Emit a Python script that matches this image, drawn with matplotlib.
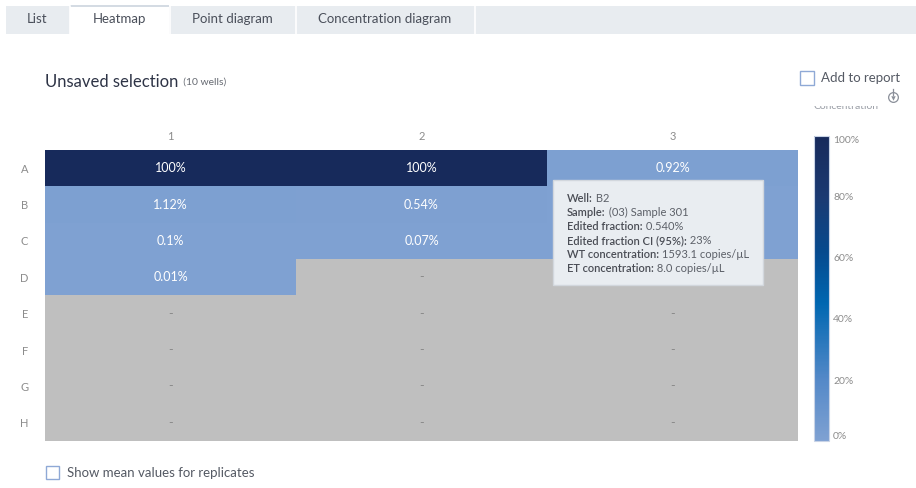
"""Well heatmap of edited fraction (%) with hover tooltip, redrawn in matplotlib."""

import numpy as np
import matplotlib
matplotlib.use("Agg")
import matplotlib.pyplot as plt
from matplotlib.colors import LinearSegmentedColormap, Normalize
from matplotlib.patches import Rectangle
from matplotlib.text import Annotation

plt.rcParams["font.family"] = ["Lato", "DejaVu Sans"]

W, H = 916, 488

# plate layout and data
rows = ["A", "B", "C", "D", "E", "F", "G", "H"]
cols = ["1", "2", "3"]
# edited fraction in %, NaN = no well data
col1 = [100, 1.12, 0.1, 0.01, np.nan, np.nan, np.nan, np.nan]
col2 = [100, 0.54, 0.07, np.nan, np.nan, np.nan, np.nan, np.nan]
col3 = [0.92, 0.35, 0.05, np.nan, np.nan, np.nan, np.nan, np.nan]
# shown labels; "-" for empty wells, None where the tooltip hides the cell
cell_labels = {
    1: ["100%", "1.12%", "0.1%", "0.01%", "-", "-", "-", "-"],
    2: ["100%", "0.54%", "0.07%", "-", "-", "-", "-", "-"],
    3: ["0.92%", None, None, None, "-", "-", "-", "-"],
}
cbar_ticks = [0, 20, 40, 60, 80, 100]

tabs = ["List", "Heatmap", "Point diagram", "Concentration diagram"]
tab_edges = [(6, 69), (70, 169), (170, 295), (296, 474)]

tooltip_lines = [
    ("Well:", "B2"),
    ("Sample:", "(03) Sample 301"),
    ("Edited fraction:", "0.540%"),
    ("Edited fraction CI (95%):", "23%"),
    ("WT concentration:", "1593.1 copies/µL"),
    ("ET concentration:", "8.0 copies/µL"),
]


def box(x0, y0, x1, y1):
    """pixel box (top-left origin) -> figure rect"""
    return [x0 / W, 1 - y1 / H, (x1 - x0) / W, (y1 - y0) / H]


def fx(x):
    return x / W


def fy(y):
    return 1 - y / H


def add_rect(x0, y0, x1, y1, **kw):
    fig.patches.append(Rectangle((fx(x0), fy(y1)), fx(x1) - fx(x0), fy(y0) - fy(y1),
                                 transform=fig.transFigure, **kw))


def append_text(anchor, s, **kw):
    """put text s right after the text artist anchor"""
    a = Annotation(s, xy=(1, 0.5), xycoords=anchor, ha="left", va="center", **kw)
    fig.add_artist(a)
    return a


fig = plt.figure(figsize=(W / 100, H / 100), dpi=100)
fig.patch.set_facecolor("white")

# --- tab strip ---
add_rect(6, 6, 916, 34, fc="#e8ecf0", ec="none")
for name, (x0, x1) in zip(tabs, tab_edges):
    active = name == "Heatmap"
    add_rect(x0, 6, x1, 34, fc="white" if active else "#e8ecf0", ec="none")
    if active:
        add_rect(x0, 5, x1, 7, fc="#d4dbe3", ec="none")
    fig.text(fx((x0 + x1) / 2), fy(19), name, ha="center", va="center",
             fontsize=9.5, color="#4a4f5a")
for xs in [69.5, 169.5, 295.5, 474.5]:
    fig.lines.append(plt.Line2D([fx(xs), fx(xs)], [fy(34), fy(6)],
                                transform=fig.transFigure, color="white", lw=1.2))

# --- title ---
t = fig.text(fx(45), fy(82), "Unsaved selection", ha="left", va="center",
             fontsize=12, color="#2e3446")
append_text(t, "  (10 wells)", fontsize=7.5, color="#666a72")

# --- add to report ---
add_rect(800, 71, 814, 85, fc="white", ec="#8fa9d6", lw=1)
fig.text(fx(821), fy(78), "Add to report", ha="left", va="center",
         fontsize=9.5, color="#555a64")
# small pin icon
fig.lines.append(plt.Line2D([fx(893)], [fy(97)], transform=fig.transFigure,
                            marker="o", ms=7, mfc="none", mec="#8a8f99", mew=0.9))
fig.lines.append(plt.Line2D([fx(893)], [fy(97.5)], transform=fig.transFigure,
                            marker="v", ms=3.2, mfc="#8a8f99", mec="none"))
fig.lines.append(plt.Line2D([fx(893), fx(893)], [fy(89), fy(95)],
                            transform=fig.transFigure, color="#8a8f99", lw=0.9))
clip_ax = fig.add_axes(box(812, 106, 888, 111))
clip_ax.set_axis_off()
clip_ax.text(0.02, 0.9, "Concentration", transform=clip_ax.transAxes, ha="left",
             va="center", fontsize=7.5, color="#9a9ea6", clip_on=True)

# --- heatmap ---
data = np.array([col1, col2, col3]).T
cmap = LinearSegmentedColormap.from_list(
    "edit", [(0.0, "#7fa1d2"), (0.2, "#5489c8"), (0.45, "#0067b1"),
             (0.62, "#064a8e"), (0.8, "#1b3a72"), (1.0, "#172a5b")])
cmap.set_bad("#bfbfbf")
norm = Normalize(0, 100)

ax = fig.add_axes(box(45, 150, 798, 441))
ax.imshow(np.ma.masked_invalid(data), cmap=cmap, norm=norm, aspect="auto",
          interpolation="nearest")
for c in range(3):
    for r, lab in enumerate(cell_labels[c + 1]):
        if lab is None:
            continue
        ax.text(c, r, lab, ha="center", va="center", fontsize=9,
                color="#8a8a8a" if lab == "-" else "white")
ax.set_xticks(range(3))
ax.set_xticklabels(cols)
ax.set_yticks(range(len(rows)))
ax.set_yticklabels(rows)
ax.xaxis.tick_top()
ax.tick_params(length=0, labelsize=8, labelcolor="#8c8c8c")
ax.tick_params(axis="x", pad=6)
ax.tick_params(axis="y", pad=12)
for s in ax.spines.values():
    s.set_visible(False)

# --- colorbar ---
cax = fig.add_axes(box(814, 136, 829, 441))
sm = plt.cm.ScalarMappable(norm=norm, cmap=cmap)
cb = fig.colorbar(sm, cax=cax, ticks=cbar_ticks)
cb.set_ticklabels([f"{v}%" for v in cbar_ticks])
cb.outline.set_edgecolor("#c8d3e6")
cb.outline.set_linewidth(0.8)
cax.tick_params(length=0, labelsize=7.5, labelcolor="#8c8c8c", pad=3)
tl = cax.get_yticklabels()
tl[0].set_va("bottom")
tl[-1].set_va("top")

# --- tooltip ---
add_rect(553, 180, 763, 285, fc="#e9edf1", ec="#d2d7dd", lw=1, zorder=10)
for i, (lab, val) in enumerate(tooltip_lines):
    lt = fig.text(fx(567), fy(198 + i * 14.2), lab, ha="left", va="center",
                  fontsize=8, fontweight="semibold", color="#4a4d55", zorder=11)
    append_text(lt, " " + val, fontsize=8, color="#5c6068", zorder=11)

# --- bottom checkbox ---
add_rect(46, 466, 59, 479, fc="white", ec="#8fa9d6", lw=1)
fig.text(fx(67), fy(473), "Show mean values for replicates", ha="left", va="center",
         fontsize=9.5, color="#555a64")

fig.savefig("out.png", dpi=100)
plt.close(fig)
